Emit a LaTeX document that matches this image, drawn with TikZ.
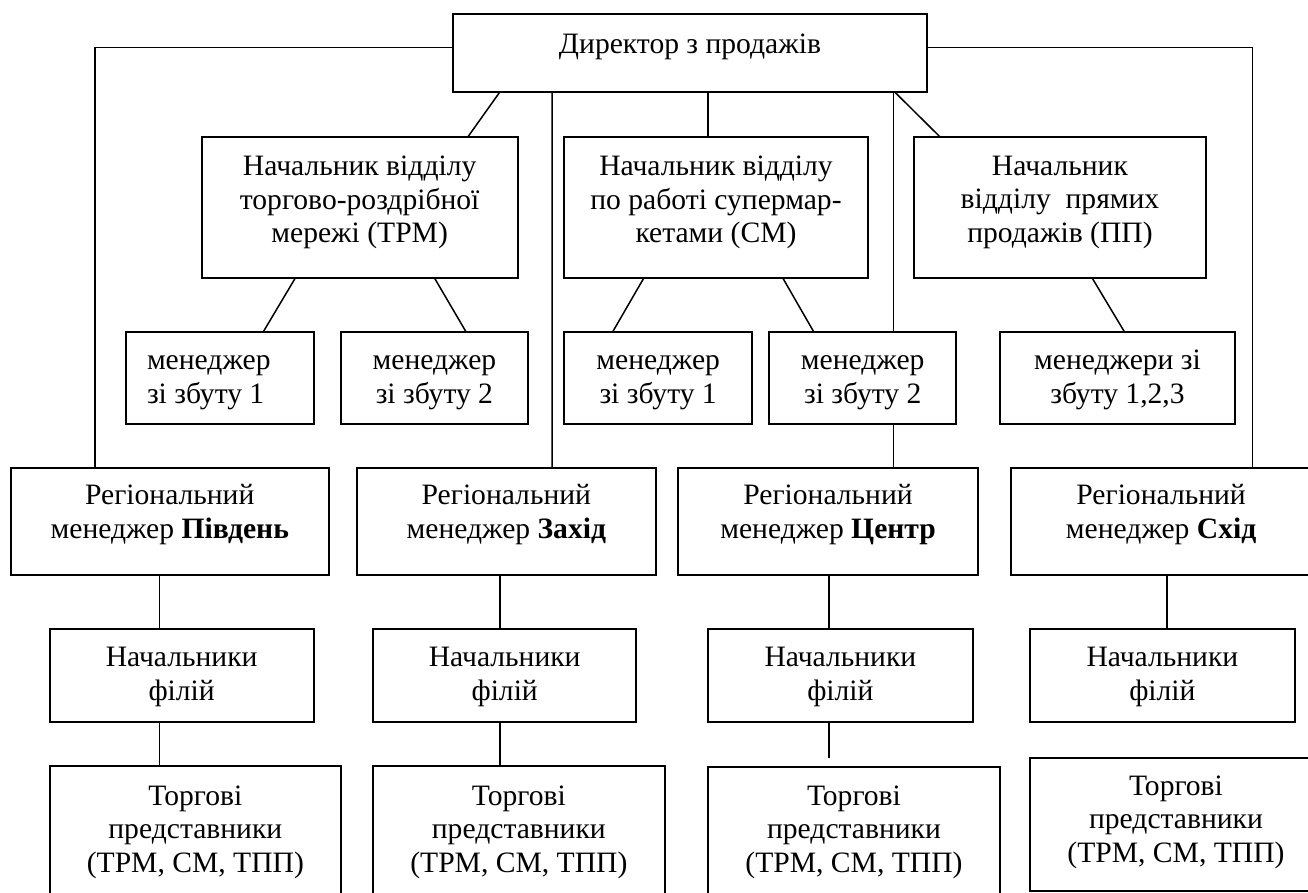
\documentclass[tikz,border=0pt]{standalone}
\usepackage{fontspec}
\setmainfont{Liberation Serif}
\newcommand\lbfont{\fontsize{29.6}{33.5}\selectfont}
\tikzset{
  box/.style={draw, line width=2pt, inner sep=0pt, outer sep=0pt},
  lbl/.style={font=\lbfont, align=center, inner sep=0pt, outer sep=0pt},
  conn/.style={line width=1.5pt},
}
\begin{document}
\begin{tikzpicture}[x=1pt,y=-1pt]
\useasboundingbox (0,0) rectangle (1308,893);
\fill[white] (0,0) rectangle (1308,893);
\clip (0,0) rectangle (1308,893);
% boxes
\node[box, minimum width=474pt, minimum height=78.3pt] (dir) at (690,53.15) {};
\node[box, minimum width=316.1pt, minimum height=140.4pt] (trm) at (359.65,207.5) {};
\node[box, minimum width=303.2pt, minimum height=140.4pt] (cm) at (716,207.5) {};
\node[box, minimum width=291.3pt, minimum height=140.4pt] (pp) at (1059.95,207.5) {};
\node[box, minimum width=187.3pt, minimum height=92pt] (m1) at (219.95,378.3) {};
\node[box, minimum width=186.8pt, minimum height=92pt] (m2) at (434.4,378.3) {};
\node[box, minimum width=187.5pt, minimum height=92pt] (m3) at (658.15,378.3) {};
\node[box, minimum width=187.4pt, minimum height=92pt] (m4) at (862.7,378.3) {};
\node[box, minimum width=235pt, minimum height=92pt] (m5) at (1117.5,378.3) {};
\node[box, minimum width=318.5pt, minimum height=106.7pt] (reg1) at (169.75,521.65) {};
\node[box, minimum width=298.7pt, minimum height=106.7pt] (reg2) at (506.35,521.65) {};
\node[box, minimum width=300.5pt, minimum height=106.7pt] (reg3) at (828.05,521.65) {};
\node[box, minimum width=300.8pt, minimum height=106.7pt] (reg4) at (1161.1,521.65) {};
\node[box, minimum width=263.9pt, minimum height=92.7pt] (fil1) at (181.65,675.35) {};
\node[box, minimum width=263.4pt, minimum height=92.7pt] (fil2) at (504.7,675.35) {};
\node[box, minimum width=264.8pt, minimum height=92.7pt] (fil3) at (840.4,675.35) {};
\node[box, minimum width=264.8pt, minimum height=92.7pt] (fil4) at (1162.4,675.35) {};
\node[box, minimum width=291.3pt, minimum height=140pt] (tp1) at (195.35,836) {};
\node[box, minimum width=291.7pt, minimum height=140pt] (tp2) at (518.85,836) {};
\node[box, minimum width=292pt, minimum height=140pt] (tp3) at (854,836.7) {};
\node[box, minimum width=292pt, minimum height=132.4pt] (tp4) at (1176,824.5) {};
% texts
\node[lbl] (tdir) at (690,46.6) {\strut Директор з продажів};
\node[lbl] (ttrm) at (359.65,202.5) {\strut Начальник відділу\\\strut торгово-роздрібної\\\strut мережі (ТРМ)};
\node[lbl] (tcm) at (716,202.5) {\strut Начальник відділу\\\strut по работі супермар-\\\strut кетами (СМ)};
\node[lbl] (tpp) at (1059.95,202) {\strut Начальник\\\strut відділу\ \ прямих\\\strut продажів (ПП)};
\node[lbl, align=left, anchor=west] (tm1) at (147,380) {\strut менеджер\\\strut зі збуту 1};
\node[lbl] (tm2) at (434.4,380) {\strut менеджер\\\strut зі збуту 2};
\node[lbl] (tm3) at (658.15,380) {\strut менеджер\\\strut зі збуту 1};
\node[lbl] (tm4) at (862.7,380) {\strut менеджер\\\strut зі збуту 2};
\node[lbl] (tm5) at (1117.5,380) {\strut менеджери зі\\\strut збуту 1,2,3};
\node[lbl] (treg1) at (169.75,515) {\strut Регіональний\\\strut менеджер \textbf{Південь}};
\node[lbl] (treg2) at (506.35,515) {\strut Регіональний\\\strut менеджер \textbf{Захід}};
\node[lbl] (treg3) at (828.05,515) {\strut Регіональний\\\strut менеджер \textbf{Центр}};
\node[lbl] (treg4) at (1161.1,515) {\strut Регіональний\\\strut менеджер \textbf{Схід}};
\node[lbl] (tfil1) at (181.65,676.7) {\strut Начальники\\\strut філій};
\node[lbl] (tfil2) at (504.7,676.7) {\strut Начальники\\\strut філій};
\node[lbl] (tfil3) at (840.4,676.7) {\strut Начальники\\\strut філій};
\node[lbl] (tfil4) at (1162.4,676.7) {\strut Начальники\\\strut філій};
\node[lbl] (ttp1) at (195.35,831.8) {\strut Торгові\\\strut представники\\\strut (ТРМ, СМ, ТПП)};
\node[lbl] (ttp2) at (518.85,831.8) {\strut Торгові\\\strut представники\\\strut (ТРМ, СМ, ТПП)};
\node[lbl] (ttp3) at (854,831.8) {\strut Торгові\\\strut представники\\\strut (ТРМ, СМ, ТПП)};
\node[lbl] (ttp4) at (1176,821.8) {\strut Торгові\\\strut представники\\\strut (ТРМ, СМ, ТПП)};
% connectors
\coordinate (L1) at (95,47.7);
\coordinate (R1) at (1252.7,47.7);
\draw[conn] (dir.west |- L1) -- (L1) -- (L1 |- reg1.north);
\draw[conn] (dir.east |- R1) -- (R1) -- (R1 |- reg4.north);
\draw[conn] ([xshift=-190.4pt]dir.south) -- ([xshift=107.95pt]trm.north);
\draw[conn] ([xshift=-137.8pt]dir.south) -- ([xshift=45.85pt]reg2.north);
\draw[conn] ([xshift=18pt]dir.south) -- ([xshift=-8pt]cm.north);
\draw[conn] ([xshift=203.3pt]dir.south) -- ([xshift=30.6pt]m4.north);
\draw[conn] ([xshift=30.6pt]m4.south) -- ([xshift=65.25pt]reg3.north);
\draw[conn] ([xshift=205pt]dir.south) -- ([xshift=-119.55pt]pp.north);
\draw[conn] ([xshift=-64.15pt]trm.south) -- ([xshift=43.05pt]m1.north);
\draw[conn] ([xshift=74.65pt]trm.south) -- ([xshift=31.9pt]m2.north);
\draw[conn] ([xshift=-72pt]cm.south) -- ([xshift=-45.75pt]m3.north);
\draw[conn] ([xshift=66.6pt]cm.south) -- ([xshift=-48.7pt]m4.north);
\draw[conn] ([xshift=32pt]pp.south) -- ([xshift=7.2pt]m5.north);
\draw[conn] ([xshift=-10.25pt]reg1.south) -- ([xshift=-10.25pt]reg1.south |- fil1.north);
\draw[conn] ([xshift=-22.15pt]fil1.south) -- ([xshift=-22.15pt]fil1.south |- tp1.north);
\draw[conn] ([xshift=-6.35pt]reg2.south) -- ([xshift=-6.35pt]reg2.south |- fil2.north);
\draw[conn] ([xshift=-4.7pt]fil2.south) -- ([xshift=-4.7pt]fil2.south |- tp2.north);
\draw[conn] ([xshift=0.85pt]reg3.south) -- ([xshift=0.85pt]reg3.south |- fil3.north);
\coordinate (gap3) at ([yshift=9pt]tp3.north);
\draw[conn] ([xshift=-11.5pt]fil3.south) -- ([xshift=-11.5pt]fil3.south |- gap3);
\draw[conn] ([xshift=5.7pt]reg4.south) -- ([xshift=5.7pt]reg4.south |- fil4.north);
\end{tikzpicture}
\end{document}
